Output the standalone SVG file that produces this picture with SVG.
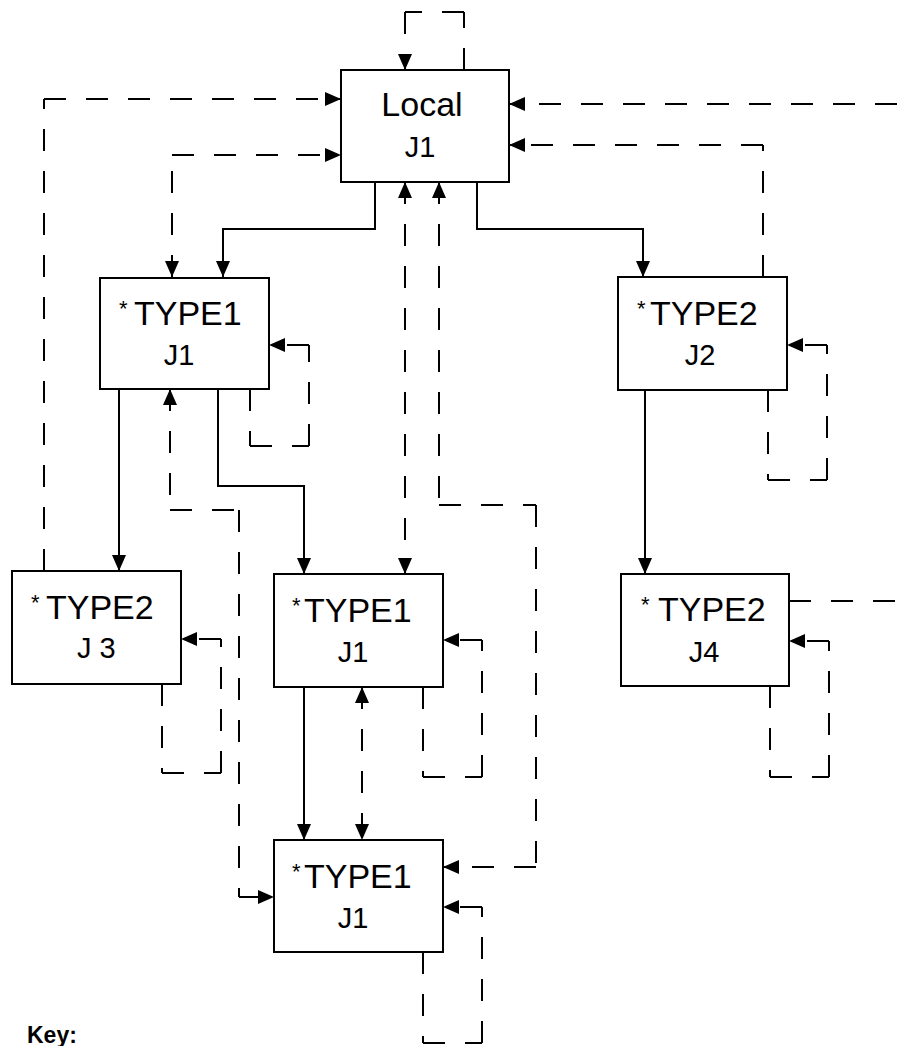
<svg xmlns="http://www.w3.org/2000/svg" width="897" height="1046" viewBox="0 0 897 1046">
<style>
.box{fill:#fff;stroke:#000;stroke-width:2}
.t{font-family:"Liberation Sans",Arial,sans-serif;fill:#000}
.big{font-size:34px}
.sm{font-size:29px}
.ast{font-size:22px}
.sol{fill:none;stroke:#000;stroke-width:2}
.dash{fill:none;stroke:#000;stroke-width:2;stroke-dasharray:22 20}
.key{font-family:"Liberation Sans",Arial,sans-serif;font-size:23px;font-weight:bold;fill:#000}
</style>
<defs>
<marker id="ah" viewBox="0 0 16 14" refX="16" refY="7" markerWidth="16" markerHeight="14" markerUnits="userSpaceOnUse" orient="auto-start-reverse">
<path d="M0,0 L16,7 L0,14 z" fill="#000"/>
</marker>
</defs>
<rect width="897" height="1046" fill="#fff"/>
<g id="connectors">
<path class="sol" d="M375,182 V229 H223 V277" marker-end="url(#ah)"/>
<path class="sol" d="M477,182 V229 H643 V277" marker-end="url(#ah)"/>
<path class="sol" d="M119,389 V571" marker-end="url(#ah)"/>
<path class="sol" d="M218,389 V486 H304 V574" marker-end="url(#ah)"/>
<path class="sol" d="M645,390 V574" marker-end="url(#ah)"/>
<path class="sol" d="M304,687 V840" marker-end="url(#ah)"/>
<path class="dash" d="M464,70 V12 M464,12 H405 M405,12 V70" marker-end="url(#ah)"/>
<path class="dash" d="M44,571 V99 M44,99 H341" marker-end="url(#ah)"/>
<path class="dash" d="M172,277 V155 M172,155 H341" marker-start="url(#ah)" marker-end="url(#ah)"/>
<path class="dash" d="M405,182 V574" marker-start="url(#ah)" marker-end="url(#ah)"/>
<path class="dash" d="M439,182 V505 M439,505 H536 M536,505 V867 M536,867 H443" marker-start="url(#ah)" marker-end="url(#ah)"/>
<path class="dash" d="M170,389 V510 M170,510 H239 M239,510 V897 M239,897 H274" marker-start="url(#ah)" marker-end="url(#ah)"/>
<path class="dash" d="M897,104 H509" marker-end="url(#ah)"/>
<path class="dash" d="M763,277 V145 M763,145 H509" marker-end="url(#ah)"/>
<path class="dash" d="M789,601 H897"/>
<path class="dash" d="M362,687 V840" marker-start="url(#ah)" marker-end="url(#ah)"/>
<path class="dash" d="M250,389 V446 M250,446 H309 M309,446 V345 M309,345 H269" marker-end="url(#ah)"/>
<path class="dash" d="M768,390 V480 M768,480 H827 M827,480 V345 M827,345 H787" marker-end="url(#ah)"/>
<path class="dash" d="M162,684 V773 M162,773 H221 M221,773 V639 M221,639 H181" marker-end="url(#ah)"/>
<path class="dash" d="M423,687 V777 M423,777 H482 M482,777 V640 M482,640 H443" marker-end="url(#ah)"/>
<path class="dash" d="M423,952 V1043 M423,1043 H482 M482,1043 V907 M482,907 H443" marker-end="url(#ah)"/>
<path class="dash" d="M770,686 V777 M770,777 H829 M829,777 V641 M829,641 H789" marker-end="url(#ah)"/>
</g>
<g id="local-j1">
<rect class="box" x="341" y="70" width="168" height="112"/>
<text class="t big" x="422" y="116" text-anchor="middle">Local</text>
<text class="t sm" x="420" y="157" text-anchor="middle">J1</text>
</g>
<g id="type1-j1-a">
<rect class="box" x="100" y="278" width="169" height="111"/>
<text class="t" y="316"><tspan class="ast" x="119">*</tspan><tspan class="big" x="134" y="325">TYPE1</tspan></text>
<text class="t sm" x="179" y="365" text-anchor="middle">J1</text>
</g>
<g id="type2-j2">
<rect class="box" x="618" y="277" width="169" height="113"/>
<text class="t" y="316"><tspan class="ast" x="637">*</tspan><tspan class="big" x="650" y="325">TYPE2</tspan></text>
<text class="t sm" x="700" y="365" text-anchor="middle">J2</text>
</g>
<g id="type2-j3">
<rect class="box" x="12" y="571" width="169" height="113"/>
<text class="t" y="610"><tspan class="ast" x="31">*</tspan><tspan class="big" x="46" y="619">TYPE2</tspan></text>
<text class="t sm" x="77" y="658" letter-spacing="8">J3</text>
</g>
<g id="type1-j1-b">
<rect class="box" x="274" y="574" width="169" height="113"/>
<text class="t" y="613"><tspan class="ast" x="292">*</tspan><tspan class="big" x="304" y="622">TYPE1</tspan></text>
<text class="t sm" x="353" y="662" text-anchor="middle">J1</text>
</g>
<g id="type2-j4">
<rect class="box" x="621" y="574" width="168" height="112"/>
<text class="t" y="612"><tspan class="ast" x="641">*</tspan><tspan class="big" x="658" y="621">TYPE2</tspan></text>
<text class="t sm" x="704" y="662" text-anchor="middle">J4</text>
</g>
<g id="type1-j1-c">
<rect class="box" x="274" y="840" width="169" height="112"/>
<text class="t" y="879"><tspan class="ast" x="292">*</tspan><tspan class="big" x="304" y="888">TYPE1</tspan></text>
<text class="t sm" x="353" y="928" text-anchor="middle">J1</text>
</g>
<text class="key" x="27" y="1043">Key:</text>
</svg>
